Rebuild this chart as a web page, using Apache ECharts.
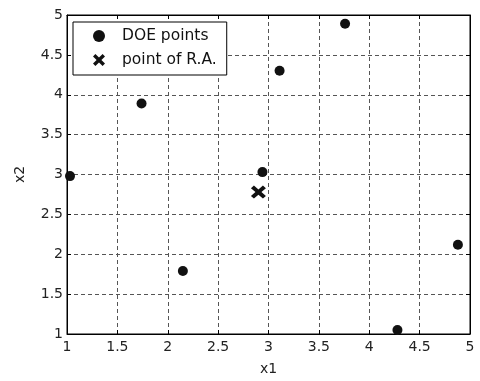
<!DOCTYPE html>
<html>
<head>
<meta charset="utf-8">
<script src="https://cdn.jsdelivr.net/npm/echarts@6/dist/echarts.min.js"></script>
<style>
  html, body { margin: 0; padding: 0; background: #fff; }
  #chart { width: 480px; height: 381px; }
</style>
</head>
<body>
<div id="chart"></div>
<script>
// DOE sample points (x1, x2)
const doeX1 = [1.03, 1.74, 2.15, 2.94, 3.11, 3.76, 4.28, 4.88];
const doeX2 = [2.98, 3.89, 1.79, 3.03, 4.30, 4.89, 1.05, 2.12];
// point of R.A.
const raX1 = [2.90];
const raX2 = [2.78];

const seriesNames = ['DOE points', 'point of R.A.'];

// filled cross glyph for the "x" marker
const CROSS = 'path://M2,0 L5,3 L8,0 L10,2 L7,5 L10,8 L8,10 L5,7 L2,10 L0,8 L3,5 L0,2 Z';
const FONT = 'DejaVu Sans, Verdana, sans-serif';

const chart = echarts.init(document.getElementById('chart'));

const dashed = { show: true, lineStyle: { color: '#555', type: [4, 3], width: 1 } };
const axisText = { color: '#222', fontSize: 14, fontFamily: FONT };
const tick = { show: true, inside: true, length: 4, lineStyle: { color: '#000' } };

const option = {
  backgroundColor: '#fff',
  animation: false,
  grid: { left: 67, right: 10, top: 15, bottom: 47, show: true, borderColor: '#000', borderWidth: 1 },
  legend: {
    orient: 'vertical',
    left: 73,
    top: 22,
    backgroundColor: '#fff',
    borderColor: '#000',
    borderWidth: 1,
    padding: [6, 10, 7, 20],
    itemGap: 8,
    itemWidth: 18,
    itemHeight: 12,
    textStyle: { color: '#111', fontSize: 15.5, fontFamily: FONT, padding: [0, 0, 0, 9] },
    data: [
      { name: seriesNames[0], icon: 'circle' },
      { name: seriesNames[1], icon: CROSS }
    ]
  },
  xAxis: [
    {
      type: 'value', min: 1, max: 5, interval: 0.5,
      name: 'x1', nameLocation: 'middle', nameGap: 28,
      nameTextStyle: { color: '#222', fontSize: 14, fontFamily: FONT },
      axisLine: { show: true, lineStyle: { color: '#000', width: 1 } },
      axisTick: tick,
      axisLabel: Object.assign({ margin: 6 }, axisText),
      splitLine: dashed
    },
    {
      type: 'value', min: 1, max: 5, interval: 0.5, position: 'top',
      axisLine: { show: true, lineStyle: { color: '#000' } },
      axisTick: tick,
      axisLabel: { show: false }, splitLine: { show: false }
    }
  ],
  yAxis: [
    {
      type: 'value', min: 1, max: 5, interval: 0.5,
      name: 'x2', nameLocation: 'middle', nameGap: 40, nameRotate: 90,
      nameTextStyle: { color: '#222', fontSize: 14, fontFamily: FONT },
      axisLine: { show: true, lineStyle: { color: '#000', width: 1 } },
      axisTick: tick,
      axisLabel: Object.assign({ margin: 4 }, axisText),
      splitLine: dashed
    },
    {
      type: 'value', min: 1, max: 5, interval: 0.5, position: 'right',
      axisLine: { show: true, lineStyle: { color: '#000' } },
      axisTick: tick,
      axisLabel: { show: false }, splitLine: { show: false }
    }
  ],
  series: [
    {
      name: seriesNames[0],
      type: 'scatter',
      symbol: 'circle',
      symbolSize: 10,
      itemStyle: { color: '#111', opacity: 1 },
      data: doeX1.map((x, i) => [x, doeX2[i]])
    },
    {
      name: seriesNames[1],
      type: 'scatter',
      symbol: CROSS,
      symbolSize: [15, 13],
      itemStyle: { color: '#111', opacity: 1 },
      data: raX1.map((x, i) => [x, raX2[i]])
    }
  ]
};

chart.setOption(option);
</script>
</body>
</html>
